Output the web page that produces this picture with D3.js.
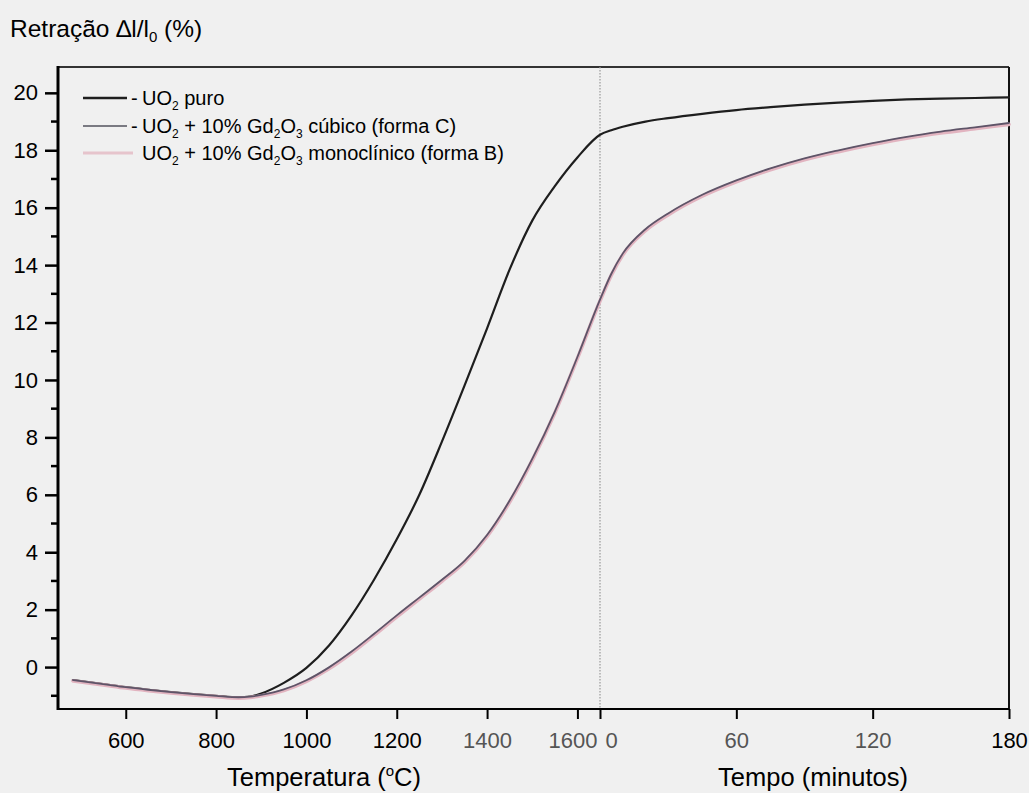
<!DOCTYPE html>
<html>
<head>
<meta charset="utf-8">
<script src="https://cdn.jsdelivr.net/npm/d3@7"></script>
<style>
  html, body { margin: 0; padding: 0; background: #f0f0f0; }
  svg { display: block; font-family: "Liberation Sans", Arial, sans-serif; }
</style>
</head>
<body>
<svg id="chart" width="1029" height="793"></svg>
<script>
// Heating stage: temperature grid (°C)
const temperatures = [483, 550, 600, 650, 700, 750, 800, 850, 875, 900, 950, 1000, 1050, 1100,
  1150, 1200, 1250, 1300, 1350, 1400, 1450, 1500, 1550, 1600, 1650];
// Isothermal stage: time grid (minutes)
const times = [0, 5, 10, 20, 30, 45, 60, 75, 90, 105, 120, 135, 150, 165, 180];

// Shrinkage (%) during heating
const puroHeat = [-0.45, -0.59, -0.70, -0.79, -0.87, -0.94, -1.00, -1.05, -1.03, -0.92, -0.55, -0.03, 0.75, 1.80,
  3.05, 4.45, 6.00, 7.85, 9.80, 11.80, 13.85, 15.55, 16.75, 17.75, 18.54];
const cubicoHeat = [-0.45, -0.59, -0.70, -0.79, -0.87, -0.94, -1.00, -1.05, -1.03, -0.97, -0.78, -0.46, -0.01, 0.54,
  1.16, 1.80, 2.42, 3.04, 3.70, 4.60, 5.80, 7.25, 8.90, 10.80, 12.80];
const monoHeat = [-0.48, -0.62, -0.73, -0.82, -0.90, -0.97, -1.03, -1.08, -1.06, -1.00, -0.82, -0.50, -0.06, 0.49,
  1.11, 1.75, 2.37, 2.99, 3.65, 4.55, 5.75, 7.20, 8.85, 10.75, 12.75];

// Shrinkage (%) during the isothermal hold
const puroHold = [18.54, 18.70, 18.82, 19.00, 19.12, 19.27, 19.40, 19.50, 19.59, 19.66, 19.72, 19.77, 19.80, 19.82, 19.84];
const cubicoHold = [12.80, 13.70, 14.40, 15.25, 15.80, 16.45, 16.95, 17.37, 17.72, 18.00, 18.25, 18.47, 18.65, 18.80, 18.95];
const monoHold = [12.75, 13.65, 14.35, 15.20, 15.75, 16.40, 16.90, 17.32, 17.67, 17.95, 18.20, 18.42, 18.60, 18.75, 18.90];

const yTicks = [0, 2, 4, 6, 8, 10, 12, 14, 16, 18, 20];
const yMinorTicks = [-1, 1, 3, 5, 7, 9, 11, 13, 15, 17, 19];
const tempTicks = [600, 800, 1000, 1200, 1400, 1600];
const timeTicks = [0, 60, 120, 180];

const seriesNames = ["UO\u2082 puro", "UO\u2082 + 10% Gd\u2082O\u2083 cúbico (forma C)", "UO\u2082 + 10% Gd\u2082O\u2083 monoclínico (forma B)"];

const svg = d3.select("#chart");
const plotLeft = 58, plotRight = 1009, plotTop = 67, plotBottom = 709, joinX = 600;

const y = d3.scaleLinear().domain([-1.46, 20.9]).range([plotBottom, plotTop]);
const xTemp = d3.scaleLinear().domain([450, 1650]).range([plotLeft, joinX]);
const xTime = d3.scaleLinear().domain([0, 180]).range([joinX, plotRight]);

const fontTick = 22;

// frame: top and right edges
svg.append("line").attr("x1", plotLeft).attr("x2", plotRight).attr("y1", plotTop).attr("y2", plotTop)
  .attr("stroke", "#333").attr("stroke-width", 2);
svg.append("line").attr("x1", plotRight).attr("x2", plotRight).attr("y1", plotTop).attr("y2", plotBottom)
  .attr("stroke", "#111").attr("stroke-width", 2);

// dotted divider between heating and hold
svg.append("line").attr("x1", joinX).attr("x2", joinX).attr("y1", plotTop).attr("y2", plotBottom)
  .attr("stroke", "#9a9a9a").attr("stroke-width", 1.2).attr("stroke-dasharray", "1.5,1.5");

// curves
function buildPoints(heat, hold) {
  const pts = temperatures.map((t, i) => [xTemp(t), y(heat[i])]);
  times.forEach((t, i) => { if (i > 0) pts.push([xTime(t), y(hold[i])]); });
  return pts;
}
const line = d3.line().curve(d3.curveMonotoneX);

const curves = [
  { heat: puroHeat, hold: puroHold, color: "#1e1e1e", width: 2.2 },
  { heat: monoHeat, hold: monoHold, color: "#e2b4c0", width: 3.6 },
  { heat: cubicoHeat, hold: cubicoHold, color: "#5e5468", width: 1.8 }
];
curves.forEach(c => {
  svg.append("path").attr("d", line(buildPoints(c.heat, c.hold)))
    .attr("fill", "none").attr("stroke", c.color).attr("stroke-width", c.width)
    .attr("stroke-linejoin", "round").attr("stroke-linecap", "round");
});

// y axis
const yAxis = svg.append("g").attr("transform", `translate(${plotLeft},0)`)
  .call(d3.axisLeft(y).tickValues(yTicks).tickSize(13).tickPadding(7).tickFormat(d3.format("d")));
yAxis.select(".domain").remove();
yAxis.selectAll(".tick line").attr("stroke", "#000").attr("stroke-width", 2.5);
yAxis.selectAll(".tick text").attr("font-size", fontTick).attr("fill", "#000")
  .attr("font-family", "Liberation Sans, Arial, sans-serif");
svg.append("g").selectAll("line").data(yMinorTicks).join("line")
  .attr("x1", plotLeft - 7).attr("x2", plotLeft).attr("y1", d => y(d)).attr("y2", d => y(d))
  .attr("stroke", "#000").attr("stroke-width", 2.5);
svg.append("line").attr("x1", plotLeft).attr("x2", plotLeft).attr("y1", plotTop - 1).attr("y2", plotBottom + 1)
  .attr("stroke", "#000").attr("stroke-width", 3);

// x axes
svg.append("line").attr("x1", plotLeft).attr("x2", plotRight).attr("y1", plotBottom).attr("y2", plotBottom)
  .attr("stroke", "#000").attr("stroke-width", 2);

function styleX(g, greyLabels, shifts) {
  g.select(".domain").remove();
  g.selectAll(".tick line").attr("stroke", "#000").attr("stroke-width", 2);
  g.selectAll(".tick text").attr("font-size", fontTick)
    .attr("font-family", "Liberation Sans, Arial, sans-serif")
    .attr("fill", d => greyLabels.includes(d) ? "#555" : "#000")
    .attr("dx", d => shifts[d] || 0);
}
const gTemp = svg.append("g").attr("transform", `translate(0,${plotBottom})`)
  .call(d3.axisBottom(xTemp).tickValues(tempTicks).tickSize(10).tickPadding(13).tickFormat(d3.format("d")));
styleX(gTemp, [1400, 1600], { 1600: -5 });
const gTime = svg.append("g").attr("transform", `translate(0,${plotBottom})`)
  .call(d3.axisBottom(xTime).tickValues(timeTicks).tickSize(10).tickPadding(13).tickFormat(d3.format("d")));
styleX(gTime, [0, 60, 120], { 0: 11 });

// axis titles
const yTitle = svg.append("text").attr("x", 10).attr("y", 37).attr("font-size", 24.5).attr("fill", "#000");
yTitle.append("tspan").text("Retração \u2206l/l");
yTitle.append("tspan").attr("font-size", 15).attr("dy", 5).text("0");
yTitle.append("tspan").attr("dy", -5).text(" (%)");

const tTitle = svg.append("text").attr("x", 324).attr("y", 786).attr("text-anchor", "middle")
  .attr("font-size", 25.5).attr("fill", "#000");
tTitle.append("tspan").text("Temperatura (");
tTitle.append("tspan").attr("font-size", 15).attr("dy", -10).text("o");
tTitle.append("tspan").attr("dy", 10).text("C)");

svg.append("text").attr("x", 813).attr("y", 786).attr("text-anchor", "middle")
  .attr("font-size", 25.5).attr("fill", "#000").text("Tempo (minutos)");

// legend
const legendRows = [
  { color: "#1e1e1e", width: 2.4, dash: true },
  { color: "#7a7a82", width: 2.2, dash: true },
  { color: "#e6c4cc", width: 3, dash: false }
];
const legendY = [98, 126, 153];
legendRows.forEach((r, i) => {
  const yy = legendY[i];
  svg.append("line").attr("x1", 83).attr("x2", r.dash ? 127 : 133).attr("y1", yy).attr("y2", yy)
    .attr("stroke", r.color).attr("stroke-width", r.width);
  if (r.dash) {
    svg.append("text").attr("x", 131).attr("y", yy + 7).attr("font-size", 20).attr("fill", "#000").text("-");
  }
  const t = svg.append("text").attr("x", 142).attr("y", yy + 7).attr("font-size", 20).attr("fill", "#000");
  // split subscript digits out of the label
  const parts = seriesNames[i].split(/([\u2082\u2083])/);
  let sub = false;
  parts.forEach(p => {
    if (p === "\u2082" || p === "\u2083") {
      t.append("tspan").attr("font-size", 12).attr("dy", 5).text(p === "\u2082" ? "2" : "3");
      sub = true;
    } else if (p.length) {
      t.append("tspan").attr("dy", sub ? -5 : 0).text(p);
      sub = false;
    }
  });
});
</script>
</body>
</html>
